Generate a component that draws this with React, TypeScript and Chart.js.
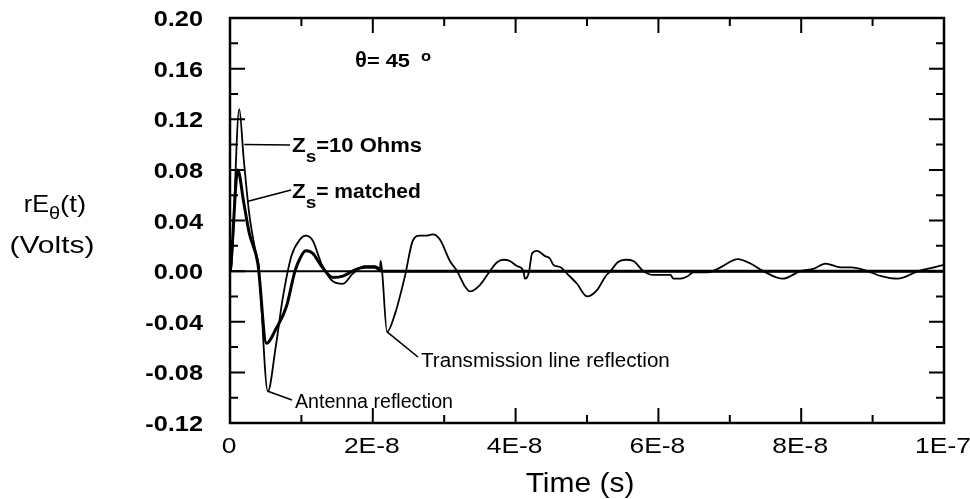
import { useEffect, useRef } from "react";
import { Chart, registerables } from "chart.js";

Chart.register(...registerables);

// Time in nanoseconds (1E-8 s = 10 ns), field in volts
const timeNs10 = [0, 0.2, 1.3, 1.9, 2.7, 3.6, 4.0, 5.3, 6.4, 7.4,
  8.6, 9.8, 10.6, 11.6, 12.8, 14.4, 15.8, 17.2, 18.9, 20.3,
  21.0, 21.1, 21.3, 22.0, 23.1, 24.5, 25.6, 26.6, 27.4, 28.4,
  29.4, 30.8, 31.8, 32.9, 33.6, 35.0, 36.4, 37.4, 38.3, 39.2,
  40.2, 41.1, 41.3, 41.6, 41.9, 42.3, 43.0, 44.1, 44.8, 45.3,
  46.3, 47.2, 48.6, 50.0, 51.4, 52.6, 53.3, 54.3, 55.4, 56.5,
  57.9, 59.3, 61.7, 62.1, 63.1, 64.1, 64.9, 66.9, 68.7, 71.1,
  72.9, 74.7, 77.4, 79.9, 81.8, 83.4, 85.5, 87.0, 89.3, 91.2,
  93.5, 96.4, 98.6, 100];
const volts10 = [0, 0.004, 0.128, 0.09, 0.045, 0.015, 0.005, -0.095, -0.06, -0.021,
  0.012, 0.025, 0.028, 0.024, 0.006, -0.008, -0.01, -0.002, 0.004, 0.004,
  0.002, 0.008, 0.0, -0.048, -0.034, -0.004, 0.024, 0.028, 0.028, 0.029,
  0.025, 0.008, 0, -0.012, -0.016, -0.011, 0, 0.007, 0.009, 0.008,
  0.004, 0, -0.006, -0.005, 0, 0.014, 0.016, 0.012, 0.01, 0.005,
  0.003, -0.002, -0.01, -0.02, -0.015, -0.004, 0, 0.007, 0.009, 0.008,
  0, -0.003, -0.003, -0.006, -0.006, -0.004, -0.001, -0.001, 0.003, 0.0095,
  0.006, 0, -0.006, 0, 0.002, 0.006, 0.003, 0.003, 0, -0.004,
  -0.006, 0, 0.003, 0.005];

const timeNsMatched = [0, 0.1, 1.1, 1.9, 2.7, 3.9, 5.1, 6.5, 7.9, 9.1, 9.8, 10.6, 11.6, 12.8, 14.4, 15.8, 17.5, 18.9, 20.3, 21.3, 100];
const voltsMatched = [0, 0.003, 0.08, 0.055, 0.03, 0.006, -0.057, -0.045, -0.028, 0.0, 0.01, 0.016, 0.014, 0.004, -0.005, -0.004, 0.001, 0.003, 0.003, 0, 0];

const xTickValues = [0, 20, 40, 60, 80, 100];
const xTickLabels = ["0", "2E-8", "4E-8", "6E-8", "8E-8", "1E-7"];
const yTickValues = [-0.12, -0.08, -0.04, 0, 0.04, 0.08, 0.12, 0.16, 0.2];
const yTickLabels = ["-0.12", "-0.08", "-0.04", "0.00", "0.04", "0.08", "0.12", "0.16", "0.20"];

// annotation anchors (data points the leader lines start from)
const antennaPoint = { x: 5.3, y: -0.095 };
const tlPoint = { x: 22.0, y: -0.048 };
const z10Point = { x: 2.0, y: 0.1 };
const zmPoint = { x: 2.4, y: 0.055 };

const FF = '"Liberation Sans", Arial, Helvetica, sans-serif';

type Part = { t: string; font: string; dy?: number; sx?: number };

function drawRun(ctx: CanvasRenderingContext2D, x: number, y: number, parts: Part[], align: "left" | "center" | "right" = "left") {
  let total = 0;
  const widths = parts.map((p) => {
    ctx.font = p.font;
    const w = ctx.measureText(p.t).width * (p.sx ?? 1);
    total += w;
    return w;
  });
  let cx = align === "left" ? x : align === "center" ? x - total / 2 : x - total;
  parts.forEach((p, i) => {
    ctx.save();
    ctx.font = p.font;
    ctx.textAlign = "left";
    ctx.textBaseline = "alphabetic";
    ctx.translate(cx, y + (p.dy ?? 0));
    ctx.scale(p.sx ?? 1, 1);
    ctx.fillText(p.t, 0, 0);
    ctx.restore();
    cx += widths[i];
  });
}

const decoPlugin = {
  id: "deco",
  beforeDatasetsDraw(chart: any) {
    const { ctx, chartArea: a, scales } = chart;
    const y0 = scales.y.getPixelForValue(0);
    ctx.save();
    ctx.strokeStyle = "#000";
    ctx.lineWidth = 2;
    ctx.beginPath();
    ctx.moveTo(a.left, y0);
    ctx.lineTo(a.right, y0);
    ctx.stroke();
    ctx.restore();
  },
  afterDatasetsDraw(chart: any) {
    const { ctx, chartArea: a, scales } = chart;
    const xs = scales.x;
    const ys = scales.y;
    ctx.save();
    ctx.fillStyle = "#000";
    ctx.strokeStyle = "#000";
    // frame
    ctx.lineWidth = 2.5;
    ctx.strokeRect(a.left, a.top, a.right - a.left, a.bottom - a.top);
    // ticks
    ctx.lineWidth = 2;
    const major = 15;
    const minor = 8;
    ctx.beginPath();
    yTickValues.forEach((v, i) => {
      const py = ys.getPixelForValue(v);
      ctx.moveTo(a.left, py); ctx.lineTo(a.left + major, py);
      ctx.moveTo(a.right, py); ctx.lineTo(a.right - major, py);
      if (i < yTickValues.length - 1) {
        const pm = ys.getPixelForValue((v + yTickValues[i + 1]) / 2);
        ctx.moveTo(a.left, pm); ctx.lineTo(a.left + minor, pm);
        ctx.moveTo(a.right, pm); ctx.lineTo(a.right - minor, pm);
      }
    });
    xTickValues.forEach((v, i) => {
      const px = xs.getPixelForValue(v);
      ctx.moveTo(px, a.bottom); ctx.lineTo(px, a.bottom - major);
      ctx.moveTo(px, a.top); ctx.lineTo(px, a.top + major);
      if (i < xTickValues.length - 1) {
        const pm = xs.getPixelForValue((v + xTickValues[i + 1]) / 2);
        ctx.moveTo(pm, a.bottom); ctx.lineTo(pm, a.bottom - minor);
        ctx.moveTo(pm, a.top); ctx.lineTo(pm, a.top + minor);
      }
    });
    ctx.stroke();

    // tick labels
    yTickValues.forEach((v, i) => {
      const py = ys.getPixelForValue(v);
      drawRun(ctx, a.left - 27, py + 8, [{ t: yTickLabels[i], font: `bold 22px ${FF}`, sx: 1.15 }], "right");
    });
    xTickValues.forEach((v, i) => {
      const px = xs.getPixelForValue(v);
      drawRun(ctx, px - 1, a.bottom + 30, [{ t: xTickLabels[i], font: `22px ${FF}`, sx: 1.2 }], "center");
    });

    // axis titles
    drawRun(ctx, (a.left + a.right) / 2 - 7, a.bottom + 69, [{ t: "Time (s)", font: `28px ${FF}`, sx: 1.07 }], "center");
    drawRun(ctx, 55, 212, [
      { t: "rE", font: `24px ${FF}`, sx: 1.05 },
      { t: "\u03b8", font: `19px ${FF}`, dy: 7, sx: 1.05 },
      { t: "(t)", font: `24px ${FF}`, sx: 1.15 },
    ], "center");
    drawRun(ctx, 52, 253, [{ t: "(Volts)", font: `24px ${FF}`, sx: 1.25 }], "center");

    // theta annotation
    drawRun(ctx, 355, 67, [
      { t: "\u03b8", font: `bold 22px ${FF}`, sx: 1.0 },
      { t: "= 45", font: `bold 19px ${FF}`, sx: 1.15 },
    ]);
    drawRun(ctx, 421, 61, [{ t: "o", font: `bold 15px ${FF}`, sx: 1.1 }]);

    // leaders
    ctx.lineWidth = 1.6;
    ctx.beginPath();
    ctx.moveTo(xs.getPixelForValue(z10Point.x), ys.getPixelForValue(z10Point.y));
    ctx.lineTo(290, 145);
    ctx.moveTo(xs.getPixelForValue(zmPoint.x), ys.getPixelForValue(zmPoint.y));
    ctx.lineTo(291, 190);
    ctx.moveTo(xs.getPixelForValue(antennaPoint.x), ys.getPixelForValue(antennaPoint.y));
    ctx.lineTo(292, 400);
    ctx.moveTo(xs.getPixelForValue(tlPoint.x), ys.getPixelForValue(tlPoint.y));
    ctx.lineTo(418, 357);
    ctx.stroke();

    drawRun(ctx, 292, 152, [
      { t: "Z", font: `bold 20px ${FF}`, sx: 1.12 },
      { t: "s", font: `bold 17px ${FF}`, dy: 10, sx: 1.12 },
      { t: "=10 Ohms", font: `bold 20px ${FF}`, sx: 1.1 },
    ]);
    drawRun(ctx, 292, 198, [
      { t: "Z", font: `bold 20px ${FF}`, sx: 1.12 },
      { t: "s", font: `bold 17px ${FF}`, dy: 10, sx: 1.12 },
      { t: "= matched", font: `bold 20px ${FF}`, sx: 1.05 },
    ]);
    drawRun(ctx, 295, 408, [{ t: "Antenna reflection", font: `20px ${FF}`, sx: 0.98 }]);
    drawRun(ctx, 421, 367, [{ t: "Transmission line reflection", font: `20px ${FF}`, sx: 1.03 }]);
    ctx.restore();
  },
};

export default function App() {
  const ref = useRef<HTMLCanvasElement>(null);
  useEffect(() => {
    document.body.style.margin = "0";
    const chart = new Chart(ref.current as HTMLCanvasElement, {
      type: "line",
      data: {
        datasets: [
          {
            label: "Zs=10 Ohms",
            data: timeNs10.map((t, i) => ({ x: t, y: volts10[i] })),
            borderColor: "#000",
            borderWidth: 1.8,
            pointRadius: 0,
            cubicInterpolationMode: "monotone",
            fill: false,
          },
          {
            label: "Zs= matched",
            data: timeNsMatched.map((t, i) => ({ x: t, y: voltsMatched[i] })),
            borderColor: "#000",
            borderWidth: 3,
            pointRadius: 0,
            cubicInterpolationMode: "monotone",
            fill: false,
          },
        ],
      },
      options: {
        responsive: false,
        animation: false,
        devicePixelRatio: 1,
        layout: { padding: { left: 230, right: 26, top: 18, bottom: 76 } },
        plugins: { legend: { display: false }, tooltip: { enabled: false } },
        scales: {
          x: { type: "linear", min: 0, max: 100, display: false },
          y: { type: "linear", min: -0.12, max: 0.2, display: false },
        },
      },
      plugins: [decoPlugin],
    } as any);
    return () => chart.destroy();
  }, []);
  return (
    <div style={{ width: 970, height: 499, background: "#fff" }}>
      <canvas ref={ref} width={970} height={499} style={{ display: "block" }} />
    </div>
  );
}
